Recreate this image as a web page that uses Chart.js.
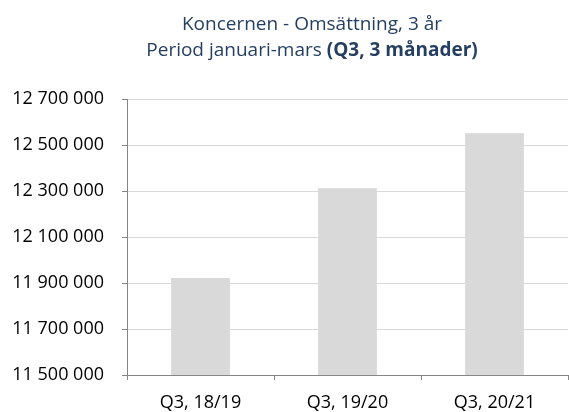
<!DOCTYPE html>
<html>
<head>
<meta charset="utf-8">
<script src="https://cdn.jsdelivr.net/npm/chart.js@4"></script>
<style>
  html, body { margin: 0; padding: 0; background: #ffffff; }
  #wrap { width: 569px; height: 412px; position: relative; }
</style>
</head>
<body>
<div id="wrap"><canvas id="c" width="569" height="412"></canvas></div>
<script>
const categories = ["Q3, 18/19", "Q3, 19/20", "Q3, 20/21"];
const revenue = [11922000, 12312000, 12551000];
const titleLine1 = "Koncernen - Omsättning, 3 år";
const titleLine2Normal = "Period januari-mars ";
const titleLine2Bold = "(Q3, 3 månader)";
const yMin = 11500000, yMax = 12700000, yStep = 200000;

const FONT = "'Open Sans', 'DejaVu Sans', sans-serif";
const TITLE_COLOR = "#243F60";

function fmt(v) {
  return String(Math.round(v)).replace(/\B(?=(\d{3})+(?!\d))/g, " ");
}

const titlePlugin = {
  id: 'customTitle',
  afterDraw(chart) {
    const ctx = chart.ctx;
    const cx = 312;
    const size = 19;
    ctx.save();
    ctx.fillStyle = TITLE_COLOR;
    ctx.textBaseline = 'alphabetic';
    ctx.font = size + "px " + FONT;
    ctx.textAlign = 'center';
    ctx.fillText(titleLine1, cx, 30);
    ctx.textAlign = 'left';
    const wN = ctx.measureText(titleLine2Normal).width;
    ctx.font = "bold " + size + "px " + FONT;
    const wB = ctx.measureText(titleLine2Bold).width;
    const x0 = cx - (wN + wB) / 2;
    ctx.font = size + "px " + FONT;
    ctx.fillText(titleLine2Normal, x0, 56);
    ctx.font = "bold " + size + "px " + FONT;
    ctx.fillText(titleLine2Bold, x0 + wN, 56);
    ctx.restore();
  }
};

new Chart(document.getElementById('c'), {
  type: 'bar',
  data: {
    labels: categories,
    datasets: [{
      data: revenue,
      backgroundColor: '#D9D9D9',
      borderWidth: 0,
      barPercentage: 0.8,
      categoryPercentage: 0.5
    }]
  },
  options: {
    responsive: false,
    animation: false,
    devicePixelRatio: 1,
    layout: { padding: { top: 99, right: 1, left: 0, bottom: 0 } },
    plugins: { legend: { display: false }, title: { display: false }, tooltip: { enabled: false } },
    scales: {
      x: {
        grid: { display: true, drawOnChartArea: false, drawTicks: true, tickLength: 5, color: '#868686', offset: true },
        border: { display: true, color: '#868686', width: 1 },
        ticks: { color: '#000000', font: { family: FONT, size: 18 }, padding: 12, maxRotation: 0 },
        afterFit(scale) { scale.height = 37; }
      },
      y: {
        min: yMin, max: yMax,
        grid: { color: '#D9D9D9', tickColor: '#868686', tickLength: 5, drawTicks: true },
        border: { display: true, color: '#868686', width: 1 },
        ticks: { stepSize: yStep, color: '#000000', font: { family: FONT, size: 18 }, padding: 18, callback: (v) => fmt(v) },
        afterFit(scale) { scale.width = 127; }
      }
    }
  },
  plugins: [titlePlugin]
});
</script>
</body>
</html>
